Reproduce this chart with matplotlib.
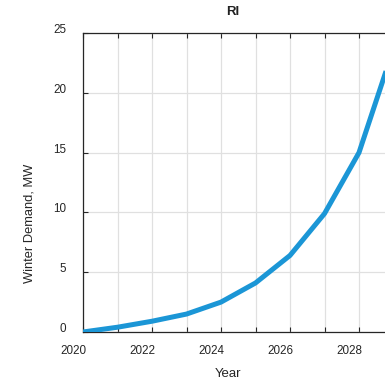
# Winter demand growth - RI
import matplotlib.pyplot as plt
import matplotlib.transforms as mtransforms

plt.rcParams['font.family'] = ['Liberation Sans', 'DejaVu Sans']

years = [2020, 2021, 2022, 2023, 2024, 2025, 2026, 2027, 2028, 2029]
demand = [0.0, 0.4, 0.9, 1.5, 2.5, 4.1, 6.4, 9.9, 15.0, 23.7]
state = 'RI'

fig = plt.figure(figsize=(3.85, 3.83), dpi=100)
ax = fig.add_axes([83 / 385, 51 / 383, 310.5 / 385, 299 / 383])

ax.plot(years, demand, color='#1b96d6', linewidth=3.6, solid_capstyle='butt', zorder=3)

ax.set_xlim(2020, 2029)
ax.set_ylim(0, 25)
ax.set_xticks(range(2020, 2030, 2))
ax.set_xticks(range(2020, 2030), minor=True)
ax.set_yticks(range(0, 26, 5))
ax.grid(True, which='both', color='#e0e0e0', linewidth=0.9)
ax.set_axisbelow(True)

for side in ['left', 'bottom', 'top']:
    ax.spines[side].set_color('#262626')
    ax.spines[side].set_linewidth(0.9)
ax.spines['right'].set_visible(False)
ax.tick_params(which='both', direction='in', top=True, length=3.5, width=0.8,
               color='#262626', labelsize=8.4, labelcolor='#262626')
ax.tick_params(which='minor', top=True)
ax.tick_params(axis='x', pad=9)
ax.tick_params(axis='y', pad=12)

# shift tick labels the way the original figure does
dx = mtransforms.ScaledTranslation(-9.5 / 100, 0, fig.dpi_scale_trans)
for lab in ax.get_xticklabels():
    lab.set_transform(lab.get_transform() + dx)
dy = mtransforms.ScaledTranslation(0, 4.5 / 100, fig.dpi_scale_trans)
for lab in ax.get_yticklabels():
    lab.set_transform(lab.get_transform() + dy)

fig.text(233 / 385, 1 - 12 / 383, state, ha='center', va='center',
         fontsize=9.5, fontweight='bold', color='#222222')
fig.text(228 / 385, 1 - 374 / 383, 'Year', ha='center', va='center',
         fontsize=9.5, color='#262626')
fig.text(29 / 385, 1 - 223 / 383, 'Winter Demand, MW', ha='center', va='center',
         rotation=90, fontsize=9.3, color='#262626')

fig.savefig('out.png', dpi=100)
